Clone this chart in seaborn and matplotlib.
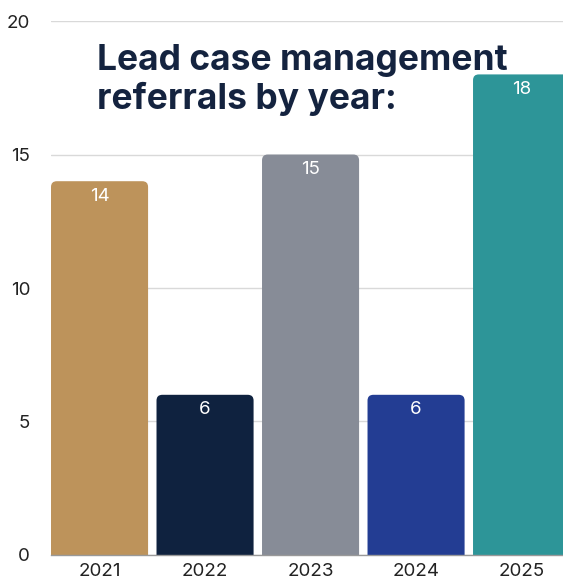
import numpy as np
import pandas as pd
import matplotlib
matplotlib.use("Agg")
import matplotlib.pyplot as plt
from matplotlib.patches import FancyBboxPatch
import seaborn as sns

years = ["2021", "2022", "2023", "2024", "2025"]
referrals = [14, 6, 15, 6, 18]
bar_colors = ["#BD935B", "#0F223F", "#878C97", "#233D93", "#2D9598"]
title = "Lead case management\nreferrals by year:"

sns.set_theme(style="white")
plt.rcParams['font.family'] = ['Inter', 'DejaVu Sans']

df = pd.DataFrame({"year": years, "referrals": referrals})

fig = plt.figure(figsize=(5.63, 5.82), dpi=100)
# axes runs a little past the right edge, so the last bar is cut off
ax = fig.add_axes([0.0906, 0.0464, 0.922, 0.9175])

sns.barplot(data=df, x="year", y="referrals", hue="year", palette=bar_colors,
            legend=False, width=0.92, saturation=1, ax=ax, zorder=2)

# swap plain bars for ones with rounded top corners
for p in list(ax.patches):
    x0, w, h = p.get_x(), p.get_width(), p.get_height()
    fc = p.get_facecolor()
    p.remove()
    rb = FancyBboxPatch((x0, -1), w, h + 1,
                        boxstyle="round,pad=0,rounding_size=0.055",
                        mutation_aspect=3.9, facecolor=fc, edgecolor="none",
                        zorder=2)
    ax.add_patch(rb)
    ax.text(x0 + w / 2, h - 0.25, str(int(h)), ha="center", va="top",
            color="white", fontsize=13.5)

ax.set_xlim(-0.46, 4.46)
ax.set_ylim(0, 20)
ax.set_yticks([0, 5, 10, 15, 20])
ax.yaxis.grid(True, color="#d9d9d9", linewidth=1, zorder=0)
ax.set_axisbelow(True)
ax.set_xlabel("")
ax.set_ylabel("")
for s in ["top", "right", "left"]:
    ax.spines[s].set_visible(False)
ax.spines["bottom"].set_color("#999999")
ax.spines["bottom"].set_linewidth(1)
ax.tick_params(axis="both", labelsize=13.5, colors="#222222", length=0)
ax.tick_params(axis="y", pad=15)
ax.tick_params(axis="x", pad=6)

fig.text(0.172, 0.925, title, ha="left", va="top", fontsize=25.5,
         fontweight="bold", color="#14233F", linespacing=1.2)

fig.savefig("out.png", dpi=100)
